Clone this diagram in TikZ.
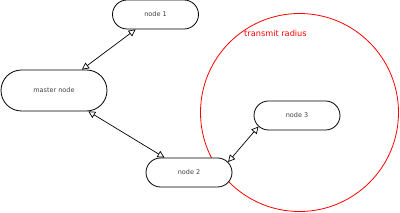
\documentclass[tikz,border=0pt]{standalone}
\usepackage{fontspec}
\setmainfont{DejaVu Sans}
\usetikzlibrary{shapes.misc,arrows.meta}
\definecolor{txt}{HTML}{404040}
\tikzset{
  pill/.style={rounded rectangle, draw=black, line width=0.8pt, fill=white,
    minimum width=86pt, minimum height=29pt, inner sep=0pt,
    text=txt, font=\fontsize{6.5}{8}\selectfont},
  link/.style={line width=0.7pt, {Triangle[open,length=7pt,width=7pt]}-{Triangle[open,length=7pt,width=7pt]}}
}
\begin{document}
\begin{tikzpicture}[x=1pt,y=-1pt]
\useasboundingbox (0,0) rectangle (400,213);
\draw[red, line width=0.8pt] (299.5,112.5) circle[radius=99pt];
\node[text=red, font=\fontsize{8.2}{10}\selectfont, anchor=west, inner sep=0pt] (lbl) at (244,33) {transmit radius};
\node[pill] (n1) at (155.5,14.5) {node 1};
\node[pill, minimum width=106pt, minimum height=41pt] (master) at (54,90.5) {master node};
\node[pill] (n2) at (189,172.5) {node 2};
\node[pill] (n3) at (297,115.5) {node 3};
\draw[link] (master) -- (n1);
\draw[link] (master) -- (n2);
\draw[link] (n2.15) -- (n3.196);
\end{tikzpicture}
\end{document}
